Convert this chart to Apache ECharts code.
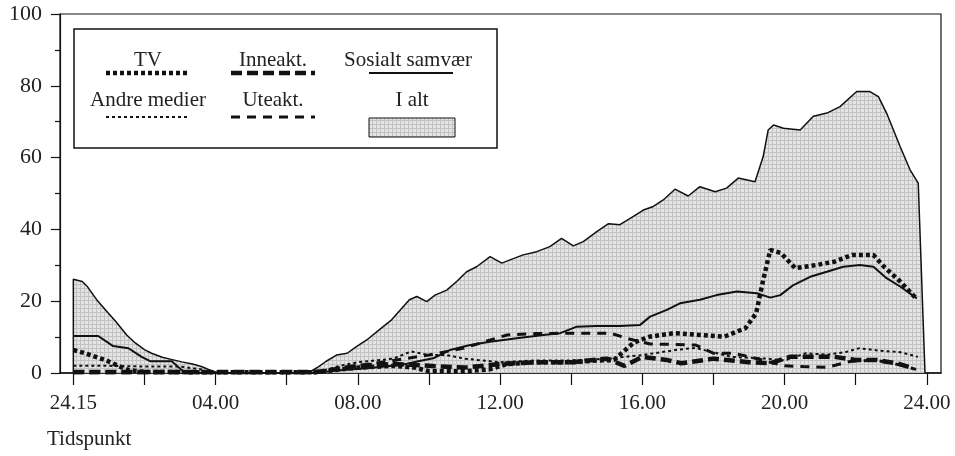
<!DOCTYPE html>
<html>
<head>
<meta charset="utf-8">
<script src="https://cdn.jsdelivr.net/npm/echarts@6/dist/echarts.min.js"></script>
<style>
  html, body { margin: 0; padding: 0; background: #fff; }
  #chart { width: 955px; height: 456px; }
</style>
</head>
<body>
<div id="chart"></div>
<script>
// Time axis: hours after the start of the day (0 = 24.15, 24 = 24.00)
const tickHours = [0, 2, 4, 6, 8, 10, 12, 14, 16, 18, 20, 22, 24];
const labelHours = [0, 4, 8, 12, 16, 20, 24];
const labelTexts = ['24.15', '04.00', '08.00', '12.00', '16.00', '20.00', '24.00'];

// I alt (total), percent
const totalHours = [0, 0, 0.25, 0.4, 0.65, 0.9, 1.2, 1.5, 1.75, 2.0, 2.2, 2.5, 2.75, 3.05, 3.35, 3.6, 3.9, 4.1,
  6.6, 6.9, 7.1, 7.4, 7.7, 7.95, 8.25, 8.6, 8.95, 9.2, 9.45, 9.66, 9.94, 10.17, 10.5, 10.78, 11.06, 11.34, 11.72,
  12.05, 12.28, 12.65, 13.03, 13.4, 13.73, 14.06, 14.34, 14.72, 15.05, 15.37, 15.75, 16.03, 16.31, 16.59, 16.92,
  17.29, 17.62, 18.05, 18.37, 18.7, 19.17, 19.4, 19.54, 19.69, 19.97, 20.44, 20.81, 21.19, 21.56, 22.03, 22.4,
  22.64, 22.87, 23.25, 23.53, 23.76, 23.95];
const totalValues = [0, 26.1, 25.5, 24, 20.5, 17.6, 14.3, 10.6, 8.3, 6.5, 5.5, 4.4, 3.8, 3.1, 2.5, 1.8, 0.6, 0,
  0, 1.8, 3.2, 5.0, 5.5, 7.3, 9.2, 12, 14.8, 17.6, 20.4, 21.3, 19.9, 21.7, 23.1, 25.5, 28.2, 29.6, 32.4,
  30.6, 31.5, 32.9, 33.8, 35.2, 37.5, 35.4, 36.6, 39.4, 41.6, 41.3, 43.6, 45.4, 46.4, 48.2, 51.2,
  49.3, 51.9, 50.5, 51.5, 54.3, 53.3, 60.3, 67.7, 69.1, 68.2, 67.7, 71.5, 72.4, 74.2, 78.4, 78.4,
  77, 72.4, 63.1, 56.6, 52.9, 0];

// TV
const tvHours = [0, 0.33, 0.9, 1.26, 1.55, 2, 4, 6.8, 7.5, 8, 9, 9.6, 10, 11, 11.7, 12.2, 13, 14, 14.8, 15.2,
  15.75, 16.2, 16.9, 17.6, 18.3, 18.9, 19.2, 19.4, 19.6, 19.9, 20.3, 20.9, 21.4, 21.9, 22.5, 22.8, 23.25, 23.7];
const tvValues = [6.4, 5.5, 3.6, 2.0, 0.8, 0.3, 0.2, 0.2, 1, 1.5, 2, 1.5, 0.5, 0.5, 1, 2.5, 3, 3, 3.5, 3.6,
  8.4, 10.1, 11.1, 10.6, 10.1, 12.5, 16.6, 25.9, 34.3, 33.4, 29.2, 30.1, 31, 32.9, 32.9, 29.6, 25.5, 20.8];

// Andre medier
const otherMediaHours = [0, 1, 2, 3, 3.6, 3.9, 6.8, 7.5, 8, 9, 9.5, 10, 10.5, 11, 12, 13, 14, 15, 16, 17, 17.5,
  18.5, 19.5, 20, 20.6, 21.2, 21.75, 22.1, 22.7, 23.25, 23.75];
const otherMediaValues = [2, 2, 1.8, 1.8, 1, 0, 0, 2, 3, 4, 6, 5, 5, 4, 3, 3.5, 3.5, 4, 5, 6.5, 7,
  4.5, 4, 3.5, 5.5, 5.1, 5.9, 6.9, 6.2, 5.8, 4.5];

// Inneakt.
const indoorHours = [0, 4, 6.8, 7, 8, 9, 10, 11, 12, 13, 14, 15, 15.5, 16, 16.7, 17.1, 18, 19, 19.6, 20.15,
  21.4, 22, 22.6, 23.16, 23.6];
const indoorValues = [0.3, 0.3, 0.3, 0.5, 2, 2.5, 2, 1.5, 2.5, 3, 3, 4, 2, 4.5, 3.6, 2.7, 4, 3, 2.7, 4.5,
  4.5, 3.6, 3.6, 2.7, 1.4];

// Uteakt.
const outdoorHours = [0, 6.8, 7, 8, 9, 10, 11, 12, 12.2, 13, 14.35, 15.1, 15.66, 16.22, 17.5, 18, 18.56, 19.03,
  19.6, 20, 20.53, 21.2, 21.84, 22.5, 23.06, 23.7];
const outdoorValues = [0, 0, 0.5, 2, 3.5, 5, 7, 10, 10.6, 11, 11.1, 11.1, 9.4, 8.1, 7.8, 5.5, 5.5, 4.5,
  3, 2, 1.8, 1.6, 3.2, 3.6, 2.7, 1];

// Sosialt samvær
const socialHours = [0, 0.7, 1.12, 1.55, 1.92, 2.16, 2.77, 3.05, 3.3, 6.8, 7.5, 8.25, 9.2, 9.7, 10.12, 10.59,
  11.16, 11.72, 12.47, 13.22, 13.69, 14.16, 14.72, 15.37, 15.94, 16.22, 16.69, 17.06, 17.62, 18.09, 18.66,
  19.22, 19.6, 19.88, 20.25, 20.72, 21.19, 21.65, 22.12, 22.5, 22.87, 23.25, 23.72];
const socialValues = [10.3, 10.3, 7.5, 6.9, 4.5, 3.3, 3.3, 0.8, 0, 0, 0.8, 1.3, 2.2, 3.3, 4.1, 6.4,
  7.8, 8.7, 9.7, 10.6, 11.1, 12.9, 13.1, 13.1, 13.4, 15.7, 17.6, 19.4, 20.4, 21.7, 22.7,
  22.2, 21.0, 21.7, 24.5, 26.8, 28.2, 29.6, 30.1, 29.6, 26.4, 24.1, 20.8];

const pairs = (xs, ys) => xs.map((x, i) => [x, ys[i]]);

// Stippled grey fill used for the total area
function stipple() {
  const c = document.createElement('canvas');
  c.width = 4; c.height = 4;
  const g = c.getContext('2d');
  g.fillStyle = '#e4e4e4';
  g.fillRect(0, 0, 4, 4);
  g.fillStyle = '#c2c2c2';
  g.fillRect(0, 0, 1, 4);
  g.fillRect(0, 0, 4, 1);
  return c;
}
const fillPattern = { image: stipple(), repeat: 'repeat' };

const FONT = '"Liberation Serif", "DejaVu Serif", serif';
const INK = '#111';

const styles = {
  tv: { width: 4.5, type: [4, 3], color: INK, cap: 'butt' },
  other: { width: 2, type: [3, 3], color: INK, cap: 'butt' },
  indoor: { width: 4.5, type: [11, 5], color: INK, cap: 'butt' },
  outdoor: { width: 3, type: [9, 7], color: INK, cap: 'butt' },
  social: { width: 2, type: 'solid', color: INK },
  total: { width: 1.5, type: 'solid', color: INK }
};

const lineSeries = (name, data, style, z) => ({
  name, type: 'line', data, symbol: 'none', smooth: false, z,
  lineStyle: style, silent: true, animation: false
});

// Legend drawn as a boxed 3x2 table: label text above its line sample
const legendRows = [
  [{ t: 'TV', s: 'tv', cx: 148 }, { t: 'Inneakt.', s: 'indoor', cx: 273 }, { t: 'Sosialt samvær', s: 'social', cx: 408 }],
  [{ t: 'Andre medier', s: 'other', cx: 148 }, { t: 'Uteakt.', s: 'outdoor', cx: 273 }, { t: 'I alt', s: 'total', cx: 412 }]
];
const legendGraphics = [{
  type: 'rect', shape: { x: 74, y: 29, width: 423, height: 119 },
  style: { fill: '#fff', stroke: INK, lineWidth: 1.5 }, z: 100
}];
legendRows.forEach((row, r) => {
  const textY = r === 0 ? 60 : 100;
  const lineY = r === 0 ? 73 : 117;
  row.forEach(item => {
    legendGraphics.push({
      type: 'text', x: item.cx, y: textY, z: 101,
      style: { text: item.t, font: '21px ' + FONT, fill: '#222', align: 'center', verticalAlign: 'middle' }
    });
    if (item.s === 'total') {
      legendGraphics.push({
        type: 'rect', shape: { x: 369, y: 118, width: 86, height: 19 }, z: 101,
        style: { fill: fillPattern, stroke: INK, lineWidth: 1 }
      });
    } else {
      const st = styles[item.s];
      const half = item.s === 'social' ? 42 : 42;
      const cx = item.s === 'social' ? 411 : item.cx;
      legendGraphics.push({
        type: 'line', z: 101,
        shape: { x1: cx - half, y1: lineY, x2: cx + half, y2: lineY },
        style: { stroke: INK, lineWidth: st.width, lineDash: st.type === 'solid' ? null : st.type, lineCap: 'butt' }
      });
    }
  });
});
legendGraphics.push({
  type: 'text', x: 47, y: 439, z: 101,
  style: { text: 'Tidspunkt', font: '21px ' + FONT, fill: '#222', align: 'left', verticalAlign: 'middle' }
});

const chart = echarts.init(document.getElementById('chart'), null, { renderer: 'canvas' });
chart.setOption({
  animation: false,
  backgroundColor: '#fff',
  grid: { left: 60, right: 14, top: 14, bottom: 83, show: true, borderColor: INK, borderWidth: 1.2, backgroundColor: 'transparent' },
  xAxis: {
    type: 'value', min: -0.375, max: 24.4,
    axisLine: { show: true, onZero: false, lineStyle: { color: INK, width: 1.5 } },
    axisTick: { show: true, inside: false, length: 12, customValues: tickHours, lineStyle: { color: INK, width: 1.2 } },
    axisLabel: {
      show: true, customValues: labelHours, margin: 20,
      formatter: v => labelTexts[labelHours.indexOf(v)] || '',
      fontFamily: FONT, fontSize: 21, color: '#222'
    },
    splitLine: { show: false }
  },
  yAxis: {
    type: 'value', min: 0, max: 100, interval: 20,
    axisLine: { show: true, onZero: false, lineStyle: { color: INK, width: 1.2 } },
    axisTick: { show: true, inside: false, length: 9, lineStyle: { color: INK, width: 1.2 } },
    minorTick: { show: true, splitNumber: 2, length: 5, lineStyle: { color: INK, width: 1.2 } },
    axisLabel: { margin: 18, fontFamily: FONT, fontSize: 22, color: '#222' },
    splitLine: { show: false }
  },
  graphic: legendGraphics,
  series: [
    Object.assign(lineSeries('I alt', pairs(totalHours, totalValues), styles.total, 1),
      { areaStyle: { color: fillPattern, opacity: 1 } }),
    lineSeries('Uteakt.', pairs(outdoorHours, outdoorValues), styles.outdoor, 2),
    lineSeries('Andre medier', pairs(otherMediaHours, otherMediaValues), styles.other, 3),
    lineSeries('Inneakt.', pairs(indoorHours, indoorValues), styles.indoor, 4),
    lineSeries('Sosialt samvær', pairs(socialHours, socialValues), styles.social, 5),
    lineSeries('TV', pairs(tvHours, tvValues), styles.tv, 6)
  ]
});
</script>
</body>
</html>
